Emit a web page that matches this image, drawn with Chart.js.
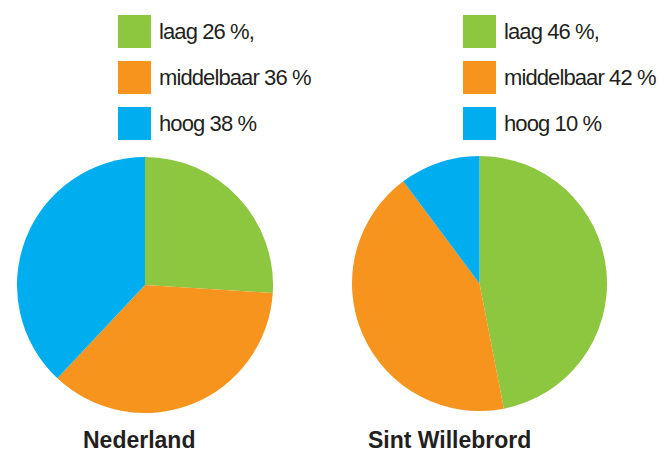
<!DOCTYPE html>
<html>
<head>
<meta charset="utf-8">
<script src="https://cdn.jsdelivr.net/npm/chart.js@4"></script>
<style>
  body { margin: 0; background: #fff; }
  #page { position: relative; width: 667px; height: 454px; overflow: hidden; font-family: "Liberation Sans", Arial, sans-serif; color: #231f20; }
  .pie { position: absolute; }
  .legend { position: absolute; top: 15px; }
  .legend-item { display: flex; align-items: center; height: 33px; margin-bottom: 13px; }
  .swatch { width: 33px; height: 33px; margin-right: 8px; flex: none; }
  .legend-text { font-size: 22px; letter-spacing: -0.9px; white-space: nowrap; }
  .title { position: absolute; top: 427px; font-size: 23px; font-weight: bold; white-space: nowrap; }
</style>
</head>
<body>
<div id="page">
  <div class="legend" id="legendNl" style="left:118px"></div>
  <div class="legend" id="legendSw" style="left:463px"></div>
  <canvas class="pie" id="pieNl" width="256" height="256" style="left:17px; top:157px"></canvas>
  <canvas class="pie" id="pieSw" width="255" height="255" style="left:352px; top:156px"></canvas>
  <div class="title" id="titleNl" style="left:83px"></div>
  <div class="title" id="titleSw" style="left:368px"></div>
</div>
<script>
const categories = ['laag', 'middelbaar', 'hoog'];
const colors = ['#8dc63f', '#f7941e', '#00aeef'];

const nederlandValues = [26, 36, 38];
const nederlandLabels = ['laag 26 %,', 'middelbaar 36 %', 'hoog 38 %'];

const willebrordValues = [46, 42, 10];
const willebrordLabels = ['laag 46 %,', 'middelbaar 42 %', 'hoog 10 %'];

const titles = ['Nederland', 'Sint Willebrord'];

function buildLegend(id, labels) {
  const box = document.getElementById(id);
  labels.forEach((text, i) => {
    const item = document.createElement('div');
    item.className = 'legend-item';
    const sw = document.createElement('div');
    sw.className = 'swatch';
    sw.style.background = colors[i];
    const span = document.createElement('span');
    span.className = 'legend-text';
    span.textContent = text;
    item.appendChild(sw);
    item.appendChild(span);
    box.appendChild(item);
  });
}

function makePie(id, values) {
  const ctx = document.getElementById(id).getContext('2d');
  return new Chart(ctx, {
    type: 'pie',
    data: {
      labels: categories,
      datasets: [{
        data: values,
        backgroundColor: colors,
        borderWidth: 0
      }]
    },
    options: {
      responsive: false,
      animation: false,
      layout: { padding: 0 },
      plugins: {
        legend: { display: false },
        tooltip: { enabled: false }
      }
    }
  });
}

buildLegend('legendNl', nederlandLabels);
buildLegend('legendSw', willebrordLabels);
makePie('pieNl', nederlandValues);
makePie('pieSw', willebrordValues);
document.getElementById('titleNl').textContent = titles[0];
document.getElementById('titleSw').textContent = titles[1];
</script>
</body>
</html>
